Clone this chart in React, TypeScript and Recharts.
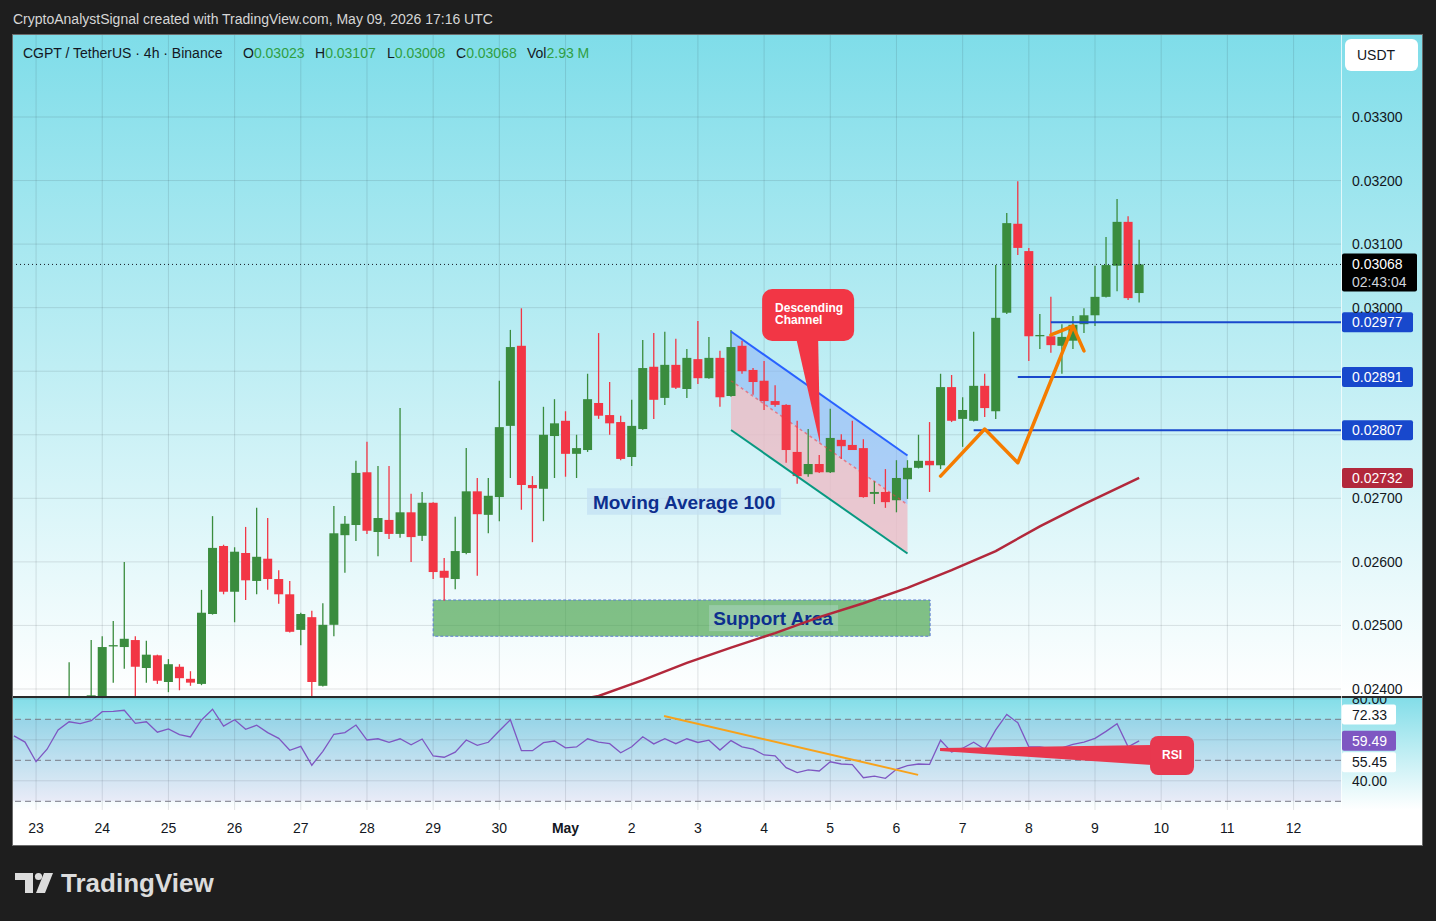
import React from "react";
import {
  ComposedChart,
  Bar,
  Line,
  Area,
  XAxis,
  YAxis,
  CartesianGrid,
  ReferenceLine,
  ReferenceArea,
  ReferenceDot,
} from "recharts";

const FONT = "'Liberation Sans', Arial, sans-serif";
const TEXT = "#131722";
const UP = "#3a8c3e";
const DOWN = "#f23645";

// 4h candles, first entry = Apr 22 16:00 UTC (index -1), index 1 = Apr 23 00:00
const FIRST_INDEX = -1;

const opens = [
  0.02372, 0.02378, 0.02371, 0.02368, 0.02375, 0.02372, 0.02384, 0.02376, 0.02388, 0.02468,
  0.02466, 0.02477, 0.02433, 0.02453, 0.02411, 0.02435, 0.02416, 0.02408, 0.02518, 0.02625,
  0.02553, 0.02614, 0.0257, 0.02605, 0.02573, 0.02549, 0.02493, 0.02513, 0.02405, 0.02501,
  0.02642, 0.02658, 0.02741, 0.02647, 0.02666, 0.02644, 0.02678, 0.02641, 0.02693, 0.02586,
  0.02573, 0.02614, 0.02711, 0.02674, 0.02702, 0.02814, 0.0294, 0.02721, 0.02715, 0.02798,
  0.02822, 0.0277, 0.02776, 0.0285, 0.02831, 0.0282, 0.02765, 0.02809, 0.02907, 0.02858,
  0.0291, 0.02872, 0.02919, 0.02889, 0.02921, 0.02861, 0.0294, 0.02902, 0.02885, 0.02853,
  0.02847, 0.02773, 0.02738, 0.02754, 0.02741, 0.02792, 0.02784, 0.02779, 0.02707, 0.0271,
  0.02697, 0.0273, 0.02748, 0.02759, 0.02752, 0.02875, 0.02825, 0.02822, 0.02877, 0.02837,
  0.02992, 0.03132, 0.03089, 0.02956, 0.02955, 0.0294, 0.02948, 0.02974, 0.02988, 0.03017,
  0.03066, 0.03135, 0.03023,
];
const highs = [
  0.02386, 0.02384, 0.02382, 0.02381, 0.02386, 0.02442, 0.02386, 0.02477, 0.02483, 0.02507,
  0.026, 0.02483, 0.02476, 0.02454, 0.02447, 0.02439, 0.02428, 0.02556, 0.02672, 0.02627,
  0.02623, 0.02655, 0.02685, 0.02669, 0.02587, 0.0257, 0.0252, 0.02523, 0.02535, 0.02688,
  0.02672, 0.02759, 0.02789, 0.02751, 0.02751, 0.02842, 0.02707, 0.0271, 0.02694, 0.02606,
  0.02671, 0.02779, 0.02732, 0.02732, 0.02885, 0.02965, 0.02999, 0.02735, 0.02844, 0.02856,
  0.02837, 0.028, 0.02896, 0.0296, 0.02883, 0.0283, 0.02855, 0.02949, 0.0296, 0.02962,
  0.02951, 0.02935, 0.02979, 0.02954, 0.02932, 0.02965, 0.02948, 0.02905, 0.02916, 0.02878,
  0.02848, 0.02822, 0.02809, 0.02768, 0.02841, 0.02801, 0.02822, 0.02793, 0.02727, 0.02746,
  0.0276, 0.0276, 0.028, 0.0282, 0.02896, 0.02894, 0.02859, 0.02962, 0.02896, 0.03067,
  0.03149, 0.03199, 0.03094, 0.0299, 0.03017, 0.02974, 0.02987, 0.02999, 0.03066, 0.03111,
  0.03171, 0.03144, 0.03107,
];
const lows = [
  0.02362, 0.02366, 0.0236, 0.02358, 0.02366, 0.02368, 0.0237, 0.02372, 0.0238, 0.0241,
  0.02432, 0.0238, 0.0241, 0.02408, 0.02395, 0.02398, 0.02405, 0.02406, 0.02517, 0.02549,
  0.02505, 0.0254, 0.02549, 0.02556, 0.02534, 0.02489, 0.02469, 0.02385, 0.02404, 0.02483,
  0.02583, 0.02633, 0.02644, 0.02609, 0.02636, 0.02638, 0.026, 0.02633, 0.02573, 0.02539,
  0.02557, 0.02612, 0.02578, 0.02645, 0.02664, 0.02732, 0.02682, 0.02631, 0.02664, 0.02732,
  0.02734, 0.02732, 0.02773, 0.02825, 0.028, 0.0276, 0.02751, 0.02808, 0.02825, 0.02847,
  0.02872, 0.02858, 0.0288, 0.02888, 0.02844, 0.0286, 0.02896, 0.02863, 0.02839, 0.02844,
  0.02756, 0.02723, 0.02734, 0.0274, 0.0274, 0.02762, 0.02776, 0.02701, 0.02691, 0.02685,
  0.02678, 0.02699, 0.02747, 0.0271, 0.02746, 0.0282, 0.02781, 0.02821, 0.02828, 0.02825,
  0.0299, 0.03083, 0.02916, 0.02935, 0.02929, 0.02896, 0.02935, 0.0296, 0.02971, 0.03016,
  0.03026, 0.03012, 0.03008,
];
const closes = [
  0.02378, 0.02371, 0.02368, 0.02375, 0.02372, 0.02384, 0.02376, 0.0239, 0.02466, 0.02469,
  0.02479, 0.02435, 0.02454, 0.02413, 0.02439, 0.02417, 0.0241, 0.0252, 0.02622, 0.02553,
  0.02616, 0.02571, 0.02608, 0.02573, 0.02549, 0.0249, 0.02518, 0.02411, 0.02501, 0.02645,
  0.0266, 0.0274, 0.02649, 0.02669, 0.02644, 0.02678, 0.02639, 0.02693, 0.02584, 0.02575,
  0.02617, 0.02711, 0.02675, 0.02704, 0.02812, 0.02938, 0.02721, 0.02716, 0.028, 0.02818,
  0.0277, 0.02779, 0.02856, 0.0283, 0.02818, 0.02762, 0.02814, 0.02905, 0.02855, 0.0291,
  0.02874, 0.02921, 0.02889, 0.02921, 0.02859, 0.02938, 0.029, 0.02883, 0.02853, 0.02847,
  0.02776, 0.02735, 0.02754, 0.02741, 0.02795, 0.02782, 0.02776, 0.02702, 0.0271, 0.02694,
  0.02732, 0.02748, 0.02759, 0.02752, 0.02875, 0.02822, 0.02839, 0.02877, 0.02842, 0.02984,
  0.03133, 0.03094, 0.02955, 0.02957, 0.02941, 0.02954, 0.02973, 0.02988, 0.03017, 0.03067,
  0.03135, 0.03015, 0.03068,
];
const rsiValues = [
  61.9, 58.9, 49.3, 55.4, 64.8, 68.8, 67.9, 69.3, 73.7, 73.9,
  74.4, 68.0, 68.8, 63.7, 65.3, 62.5, 61.4, 69.7, 74.9, 66.7,
  69.8, 65.1, 67.1, 63.5, 60.7, 54.9, 56.8, 47.6, 54.4, 62.7,
  63.5, 67.2, 59.9, 60.5, 58.8, 60.5, 57.6, 60.4, 52.1, 51.5,
  54.0, 59.9, 57.3, 58.8, 64.4, 69.8, 54.7, 54.7, 58.6, 59.4,
  56.1, 56.5, 60.5, 58.9, 58.1, 53.7, 56.6, 61.5, 58.0, 60.5,
  58.1, 60.5, 58.7, 59.8, 55.0, 59.6, 56.6, 55.4, 52.6, 52.2,
  46.4, 44.0, 45.3, 44.8, 49.3, 48.2, 47.9, 41.5, 42.3, 41.2,
  45.6, 47.4, 48.2, 48.0, 59.8, 54.0, 55.9, 58.8, 55.4, 64.8,
  72.4, 68.3, 56.6, 56.6, 55.7, 56.1, 57.8, 58.9, 60.7, 64.1,
  67.9, 56.6, 59.49,
];

const dayLabels = ["23", "24", "25", "26", "27", "28", "29", "30", "May", "2", "3", "4", "5", "6", "7", "8", "9", "10", "11", "12"];
const dayTicks = dayLabels.map((_, k) => 1 + 6 * k);
const priceTicks = [0.024, 0.025, 0.026, 0.027, 0.028, 0.029, 0.03, 0.031, 0.032, 0.033];
// tick labels that sit behind a price tag in the picture
const coveredPriceTicks = [0.028, 0.029];
const rsiTicks = [40, 60, 80];
const coveredRsiTicks = [60];

// moving average 100, read at a few candles
const maIndex = [48, 52, 56, 60, 64, 68, 72, 76, 80, 84, 88, 92, 96, 100, 101];
const maValues = [0.02376, 0.02389, 0.02414, 0.02441, 0.02465, 0.02488, 0.02513, 0.02535, 0.02559, 0.02587, 0.02617, 0.02656, 0.02691, 0.02724, 0.02732];

// descending channel
const channelIndex = [64, 80];
const channelUpper = [0.029625, 0.027674];
const channelMiddle = [0.02885, 0.0269];
const channelLower = [0.028075, 0.026132];

// orange swing drawing
const zigIndex = [83, 87, 90, 95];
const zigValues = [0.02735, 0.02809, 0.02756, 0.02971];
const hookIndex = [93, 95, 96];
const hookValues = [0.02957, 0.02971, 0.02932];

const levelValues = [0.02977, 0.02891, 0.02807];
const levelStart = [93, 90, 86];

const LAST_PRICE = 0.03068;
const MA_LAST = 0.02732;
const X_DOMAIN: [number, number] = [-1.09, 119.3];
const PRICE_DOMAIN: [number, number] = [0.023874, 0.03429];
const RSI_DOMAIN: [number, number] = [25.76, 80.88];

const pick = (idx: number[], vals: number[], i: number) => {
  const k = idx.indexOf(i);
  return k >= 0 ? vals[k] : undefined;
};

const candles = opens.map((open, k) => {
  const i = k + FIRST_INDEX;
  return {
    i,
    open,
    high: highs[k],
    low: lows[k],
    close: closes[k],
    range: [lows[k], highs[k]],
    ma: pick(maIndex, maValues, i),
    chUp: pick(channelIndex, channelUpper, i),
    chMid: pick(channelIndex, channelMiddle, i),
    chLow: pick(channelIndex, channelLower, i),
    zig: pick(zigIndex, zigValues, i),
    hook: pick(hookIndex, hookValues, i),
  };
});
const rsiData = rsiValues.map((rsi, k) => ({ i: k + FIRST_INDEX, rsi }));

const Candle = (props: any) => {
  const { x, y, width, height, payload } = props;
  if (x == null || y == null) return null;
  const { open, close, high, low } = payload;
  const color = close >= open ? UP : DOWN;
  const top = Math.min(y, y + height);
  const h = Math.abs(height);
  const k = h / (high - low || 1);
  const bTop = top + (high - Math.max(open, close)) * k;
  const bBot = top + (high - Math.min(open, close)) * k;
  const cx = x + width / 2;
  return (
    <g>
      <line x1={cx} x2={cx} y1={top} y2={top + h} stroke={color} strokeWidth={1.3} />
      <rect x={x} y={bTop} width={width} height={Math.max(1.3, bBot - bTop)} fill={color} />
    </g>
  );
};

const PriceTick = ({ x, y, payload }: any) =>
  coveredPriceTicks.includes(payload.value) ? null : (
    <text x={x} y={y} dy={5} fontSize={14} fill={TEXT} fontFamily={FONT} textAnchor="start">
      {Number(payload.value).toFixed(5)}
    </text>
  );

const RsiTick = ({ x, y, payload }: any) =>
  coveredRsiTicks.includes(payload.value) ? null : (
    <text x={x} y={y} dy={5} fontSize={14} fill={TEXT} fontFamily={FONT} textAnchor="start">
      {Number(payload.value).toFixed(2)}
    </text>
  );

const DayTick = ({ x, y, payload }: any) => {
  const label = dayLabels[dayTicks.indexOf(payload.value)];
  return (
    <text x={x} y={y + 23} fontSize={14} fill={TEXT} fontFamily={FONT} textAnchor="middle" fontWeight={label === "May" ? 700 : 400}>
      {label}
    </text>
  );
};

const tag = (text: string, bg: string, fg = "#ffffff", w = 71, dy = 0) => (props: any) => {
  const vb = props.viewBox;
  const x = vb.x + vb.width + 1;
  const y = vb.y + dy;
  return (
    <g>
      <rect x={x} y={y - 10} width={w} height={20} rx={2} fill={bg} />
      <text x={x + 10} y={y + 5} fontSize={14} fill={fg} fontFamily={FONT}>
        {text}
      </text>
    </g>
  );
};

const lastTag = (props: any) => {
  const vb = props.viewBox;
  const x = vb.x + vb.width + 1;
  const y = vb.y;
  return (
    <g>
      <rect x={x} y={y - 11} width={75} height={38} rx={2} fill="#000000" />
      <text x={x + 10} y={y + 5} fontSize={14} fill="#ffffff" fontFamily={FONT}>
        {LAST_PRICE.toFixed(5)}
      </text>
      <text x={x + 10} y={y + 23} fontSize={14} fill="#d1d4dc" fontFamily={FONT}>
        02:43:04
      </text>
    </g>
  );
};

const ChannelCallout = ({ cx, cy }: any) => (
  <g>
    <path d={`M${cx - 24},${cy - 106} L${cx},${cy} L${cx - 2},${cy - 106} Z`} fill="#f23645" />
    <rect x={cx - 58} y={cy - 155} width={92} height={52} rx={10} fill="#f23645" />
    <text x={cx - 45} y={cy - 132} fontSize={12} fontWeight={700} fill="#ffffff" fontFamily={FONT}>
      Descending
    </text>
    <text x={cx - 45} y={cy - 120} fontSize={12} fontWeight={700} fill="#ffffff" fontFamily={FONT}>
      Channel
    </text>
  </g>
);

const RsiCallout = ({ cx, cy }: any) => (
  <g>
    <path d={`M${cx},${cy - 1} L${cx + 212},${cy - 4} L${cx + 212},${cy + 16} L${cx},${cy + 2} Z`} fill="#e8384f" />
    <rect x={cx + 210} y={cy - 13} width={44} height={39} rx={8} fill="#e8384f" />
    <text x={cx + 232} y={cy + 10} fontSize={12} fontWeight={700} fill="#ffffff" fontFamily={FONT} textAnchor="middle">
      RSI
    </text>
  </g>
);

const maLabel = (props: any) => {
  const vb = props.viewBox;
  return (
    <text x={vb.x + vb.width / 2} y={vb.y + vb.height / 2 + 7} fontSize={19} fontWeight={700} fill="#0d2f8e" fontFamily={FONT} textAnchor="middle">
      Moving Average 100
    </text>
  );
};

const supportLabel = (props: any) => {
  const vb = props.viewBox;
  const cx = vb.x + vb.width * 0.684;
  const cy = vb.y + vb.height / 2;
  return (
    <g>
      <rect x={cx - 64} y={cy - 13} width={129} height={26} fill="#cfe3f2" fillOpacity={0.3} />
      <text x={cx} y={cy + 7} fontSize={19} fontWeight={700} fill="#0d2f8e" fontFamily={FONT} textAnchor="middle">
        Support Area
      </text>
    </g>
  );
};

const TvLogo = () => (
  <svg width={40} height={22} style={{ position: "absolute", left: 15, top: 872 }}>
    <path d="M0 1 H18 V21 H10 V8 H0 Z" fill="#dcdcdc" />
    <circle cx={23.5} cy={4.5} r={3.6} fill="#dcdcdc" />
    <path d="M29 1 H38 L30 21 H21 Z" fill="#dcdcdc" />
  </svg>
);

export default function App() {
  return (
    <div
      style={{
        position: "absolute",
        left: 0,
        top: 0,
        width: 1436,
        height: 921,
        background: "#1e1e1e",
        fontFamily: FONT,
        overflow: "hidden",
      }}
    >
      <div style={{ position: "absolute", left: 13, top: 10, fontSize: 14, lineHeight: "18px", color: "#d6d6d6" }}>
        CryptoAnalystSignal created with TradingView.com, May 09, 2026 17:16 UTC
      </div>

      <div style={{ position: "absolute", left: 13, top: 35, width: 1409, height: 810, background: "#ffffff", overflow: "hidden", outline: "1px solid #6b6b6b" }}>
        <div style={{ position: "absolute", left: 0, top: 0, width: 1409, height: 662, background: "linear-gradient(#7fdde9, #ffffff)" }} />
        <div style={{ position: "absolute", left: 0, top: 662, width: 1409, height: 113, background: "linear-gradient(#82dde8, #ffffff)" }} />

        <div style={{ position: "absolute", left: 0, top: 0 }}>
          <ComposedChart width={1409} height={662} data={candles} margin={{ top: 0, right: 0, bottom: 0, left: 0 }}>
            <CartesianGrid stroke="#2a2e39" strokeOpacity={0.13} verticalValues={dayTicks} horizontalValues={priceTicks} />
            <XAxis dataKey="i" type="number" domain={X_DOMAIN} ticks={dayTicks} allowDataOverflow hide />
            <YAxis
              orientation="right"
              type="number"
              width={81}
              domain={PRICE_DOMAIN}
              ticks={priceTicks}
              interval={0}
              allowDataOverflow
              axisLine={false}
              tickLine={false}
              tickSize={0}
              tickMargin={11}
              tick={<PriceTick />}
            />
            <ReferenceArea x1={37} x2={82.05} y1={0.02483} y2={0.0254} fill="#43a047" fillOpacity={0.65} stroke="#5b7bd5" strokeDasharray="3 2" label={supportLabel} />
            <ReferenceArea x1={50.95} x2={68.54} y1={0.02674} y2={0.02716} fill="#c3e0f3" fillOpacity={0.75} label={maLabel} />
            <Area dataKey={(d: any) => (d.chUp === undefined ? null : [d.chMid, d.chUp])} stroke="none" fill="#8fb6f7" fillOpacity={0.6} connectNulls isAnimationActive={false} />
            <Area dataKey={(d: any) => (d.chLow === undefined ? null : [d.chLow, d.chMid])} stroke="none" fill="#ecbcc6" fillOpacity={0.8} connectNulls isAnimationActive={false} />
            <Line dataKey="chMid" stroke="#f23645" strokeOpacity={0.55} strokeWidth={1.5} strokeDasharray="3 3" dot={false} connectNulls isAnimationActive={false} />
            <Line dataKey="ma" stroke="#b2283b" strokeWidth={2.5} dot={false} connectNulls isAnimationActive={false} />
            <Bar dataKey="range" barSize={9} shape={<Candle />} isAnimationActive={false} />
            <Line dataKey="chUp" stroke="#2962ff" strokeWidth={2} dot={false} connectNulls isAnimationActive={false} />
            <Line dataKey="chLow" stroke="#089981" strokeWidth={2} dot={false} connectNulls isAnimationActive={false} />
            {levelValues.map((v, k) => (
              <ReferenceLine
                key={v}
                segment={[
                  { x: levelStart[k], y: v },
                  { x: X_DOMAIN[1], y: v },
                ]}
                stroke="#1848cc"
                strokeWidth={2}
                label={tag(v.toFixed(5), "#1848cc")}
              />
            ))}
            <Line dataKey="zig" stroke="#f57c00" strokeWidth={3.5} strokeLinejoin="round" strokeLinecap="round" dot={false} connectNulls isAnimationActive={false} />
            <Line dataKey="hook" stroke="#f57c00" strokeWidth={3.5} strokeLinejoin="round" strokeLinecap="round" dot={false} connectNulls isAnimationActive={false} />
            <ReferenceLine y={LAST_PRICE} stroke="#131722" strokeDasharray="1 3" label={lastTag} />
            <ReferenceLine y={MA_LAST} stroke="none" label={tag(MA_LAST.toFixed(5), "#b2283b")} />
            <ReferenceDot x={72.08} y={0.027855} r={0} shape={(p: any) => <ChannelCallout {...p} />} />
          </ComposedChart>
        </div>

        <div style={{ position: "absolute", left: 0, top: 662 }}>
          <ComposedChart width={1409} height={148} data={rsiData} margin={{ top: 0, right: 0, bottom: 0, left: 0 }}>
            <ReferenceArea y1={30} y2={70} fill="#7e57c2" fillOpacity={0.1} />
            <CartesianGrid stroke="#2a2e39" strokeOpacity={0.13} verticalValues={dayTicks} horizontalValues={rsiTicks} />
            <XAxis
              dataKey="i"
              type="number"
              domain={X_DOMAIN}
              ticks={dayTicks}
              interval={0}
              allowDataOverflow
              height={35}
              axisLine={false}
              tickLine={false}
              tickSize={0}
              tickMargin={0}
              tick={<DayTick />}
            />
            <YAxis
              orientation="right"
              type="number"
              width={81}
              domain={RSI_DOMAIN}
              ticks={rsiTicks}
              interval={0}
              allowDataOverflow
              axisLine={false}
              tickLine={false}
              tickSize={0}
              tickMargin={11}
              tick={<RsiTick />}
            />
            {[70, 50, 30].map((v) => (
              <ReferenceLine key={v} y={v} stroke="#787b86" strokeDasharray="6 4" />
            ))}
            <Line dataKey="rsi" stroke="#7e57c2" strokeWidth={1.3} dot={false} isAnimationActive={false} />
            <ReferenceLine
              segment={[
                { x: 57.93, y: 71.6 },
                { x: 80.96, y: 42.9 },
              ]}
              stroke="#f7a21b"
              strokeWidth={2}
            />
            <ReferenceDot x={82.95} y={55.51} r={0} shape={(p: any) => <RsiCallout {...p} />} />
            <ReferenceLine y={72.33} stroke="none" label={tag("72.33", "#ffffff", TEXT, 54)} />
            <ReferenceLine y={59.49} stroke="none" label={tag("59.49", "#7e57c2", "#ffffff", 54)} />
            <ReferenceLine y={55.45} stroke="none" label={tag("55.45", "#ffffff", TEXT, 54, 13)} />
          </ComposedChart>
        </div>

        <div style={{ position: "absolute", left: 0, top: 661, width: 1409, height: 1.5, background: "#2b2b2b" }} />
        <div style={{ position: "absolute", left: 1328, top: 0, width: 1, height: 775, background: "rgba(255,255,255,0.7)" }} />

        <div style={{ position: "absolute", left: 10, top: 9, fontSize: 14, lineHeight: "18px", color: TEXT, whiteSpace: "nowrap" }}>
          CGPT / TetherUS · 4h · Binance
        </div>
        {[
          ["O", "0.03023", 230],
          ["H", "0.03107", 302],
          ["L", "0.03008", 374],
          ["C", "0.03068", 443],
          ["Vol", "2.93 M", 514],
        ].map(([k, v, left]) => (
          <div key={k as string} style={{ position: "absolute", left: left as number, top: 9, fontSize: 14, lineHeight: "18px", color: TEXT, whiteSpace: "nowrap" }}>
            {k}
            <span style={{ color: "#2f9e44" }}>{v}</span>
          </div>
        ))}

        <div
          style={{
            position: "absolute",
            left: 1332,
            top: 4,
            width: 73,
            height: 32,
            background: "#ffffff",
            borderRadius: 6,
            fontSize: 14,
            lineHeight: "32px",
            color: TEXT,
            paddingLeft: 12,
            boxSizing: "border-box",
          }}
        >
          USDT
        </div>
      </div>

      <TvLogo />
      <div style={{ position: "absolute", left: 61, top: 867, fontSize: 26, lineHeight: "32px", fontWeight: 700, color: "#dcdcdc" }}>
        TradingView
      </div>
    </div>
  );
}
